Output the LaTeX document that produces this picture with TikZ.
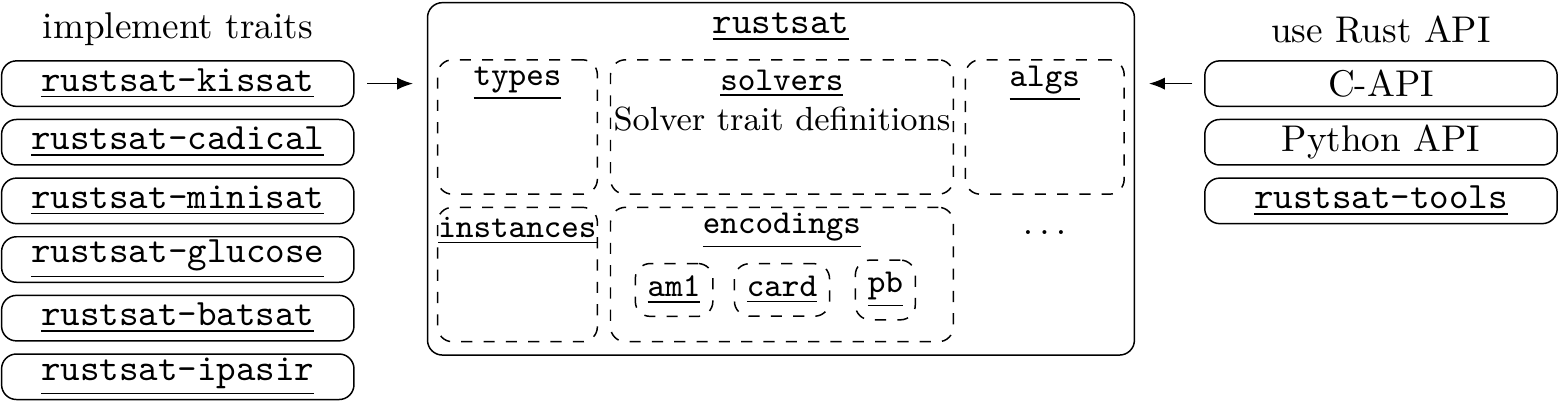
\documentclass[tikz,border=0pt]{standalone}
\usepackage{amsmath}
\usepackage{xcolor}
\usepackage{tikz}
\usetikzlibrary{arrows.meta,positioning}

\begin{document}
\begin{tikzpicture}[node distance=0.11cm, >={Latex[length=4.3pt,width=3.3pt]},
        cratebox/.style={draw, rounded corners, minimum width=3.33cm, minimum height=0.43cm, inner sep=0.5pt},
        modbox/.style={draw, dashed, rounded corners, minimum height=1.27cm},
        subbox/.style={draw, dashed, rounded corners, font=\small},
        modtitle/.style={font=\small}]
        \useasboundingbox (0,0) rectangle (14.77,-3.83);

        \node (impl) at (1.68,-0.28) {implement traits};
        \node[cratebox] (kissat) at (1.68,-0.79) {\underline{\texttt{rustsat-kissat}}};
        \node[cratebox, below=of kissat] (cadical) {\underline{\texttt{rustsat-cadical}}};
        \node[cratebox, below=of cadical] (minisat) {\underline{\texttt{rustsat-minisat}}};
        \node[cratebox, below=of minisat] (glucose) {\underline{\texttt{rustsat-glucose}}};
        \node[cratebox, below=of glucose] (batsat) {\underline{\texttt{rustsat-batsat}}};
        \node[cratebox, below=of batsat] (ipasir) {\underline{\texttt{rustsat-ipasir}}};

        \node[draw, rounded corners, minimum width=6.68cm, minimum height=3.33cm] (rustsat) at (7.38,-1.69) {};
        \node (rstitle) at ([yshift=-0.24cm]rustsat.north) {\underline{\texttt{rustsat}}};

        \node[modbox, minimum width=1.51cm] (types) at (4.89,-1.2) {};
        \node[modbox, minimum width=3.24cm, right=0.11cm of types] (solvers) {};
        \node[modbox, minimum width=1.5cm, right=0.1cm of solvers] (algs) {};
        \node[modbox, minimum width=1.51cm, below=0.11cm of types] (instances) {};
        \node[modbox, minimum width=3.24cm, below=0.11cm of solvers] (encodings) {};

        \node[modtitle] (typestitle) at ([yshift=-0.23cm]types.north) {\underline{\texttt{types}}};
        \node[modtitle] (solverstitle) at ([yshift=-0.23cm]solvers.north) {\underline{\texttt{solvers}}};
        \node[modtitle] (solverstext) at ([yshift=-0.57cm]solvers.north) {Solver trait definitions};
        \node[modtitle] (algstitle) at ([yshift=-0.23cm]algs.north) {\underline{\texttt{algs}}};
        \node[modtitle] (instancestitle) at ([yshift=-0.23cm]instances.north) {\underline{\texttt{instances}}};
        \node[modtitle] (encodingstitle) at ([yshift=-0.23cm]encodings.north) {\underline{\texttt{encodings}}};

        \node[subbox] (am1) at (6.37,-2.74) {\underline{\texttt{am1}}};
        \node[subbox, right=0.19cm of am1] (card) {\underline{\texttt{card}}};
        \node[subbox, right=0.23cm of card] (pb) {\underline{\texttt{pb}}};

        \node (more) at (9.9,-2.2) {$\dots$};

        \node (useapi) at (13.05,-0.28) {use Rust API};
        \node[cratebox] (capi) at (13.05,-0.79) {C-API};
        \node[cratebox, below=of capi] (pyapi) {Python API};
        \node[cratebox, below=of pyapi] (tools) {\underline{\texttt{rustsat-tools}}};

        \draw[->, shorten <=0.12cm, shorten >=0.13cm] (kissat.east) -- (kissat.east -| rustsat.west);
        \draw[->, shorten <=0.11cm, shorten >=0.13cm] (capi.west) -- (capi.west -| rustsat.east);
    \end{tikzpicture}
\end{document}
